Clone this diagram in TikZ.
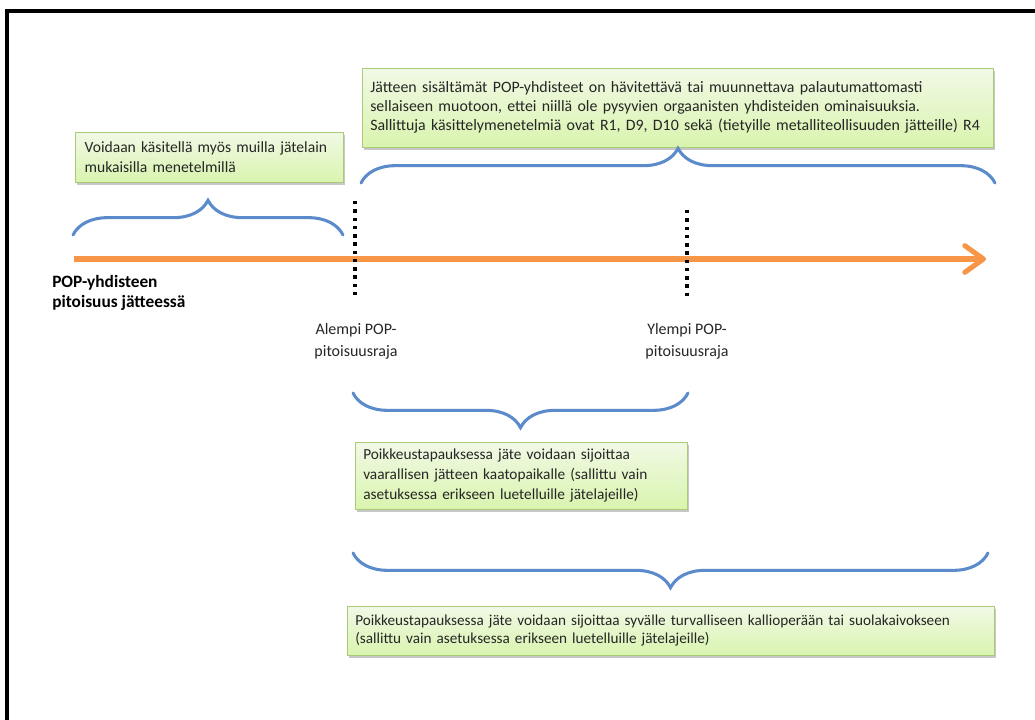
\documentclass[tikz,border=0pt]{standalone}
\usepackage{fontspec}
\setmainfont{Carlito}
\usepackage{xcolor}
\usepackage{tikz}
\usetikzlibrary{arrows.meta,positioning,decorations.pathreplacing,shadows}
\definecolor{axisorange}{HTML}{F79646}
\definecolor{braceblue}{HTML}{5B8BCB}
\definecolor{notetop}{HTML}{F1F9E6}
\definecolor{notebottom}{HTML}{D9F4AE}
\definecolor{noteborder}{HTML}{A9CB78}
\definecolor{textdark}{HTML}{262626}

\begin{document}
\begin{tikzpicture}[
    x=0.75pt,y=-0.75pt,
    note/.style={draw=noteborder,top color=notetop,bottom color=notebottom,anchor=north west,align=left,
        inner xsep=6pt,inner ysep=2pt,font=\fontsize{11.2}{13.6}\selectfont,text=textdark,
        drop shadow={shadow xshift=1.5pt,shadow yshift=-1.8pt,fill=black,opacity=0.22}},
    limit/.style={align=center,inner sep=0pt,font=\fontsize{12}{16.5}\selectfont,text=textdark},
    curly/.style={decorate,decoration={brace,amplitude=26pt},draw=braceblue,line width=2.3pt,line cap=round},
    axis/.style={draw=axisorange,line width=3.8pt,-{Straight Barb[length=14pt,width=20pt,round]}},
    threshold/.style={draw=black,line width=2.3pt,dash pattern=on 2.6pt off 3.6pt}
]
    \useasboundingbox (0,0) rectangle (1035,720);
    \draw[line width=2.3pt] (7,722) -- (7,11) -- (1037,11);

    \node[note,text width=461pt,minimum height=59.25pt,font=\fontsize{11.9}{14.2}\selectfont] (destroy) at (362,68)
        {Jätteen sisältämät POP-yhdisteet on hävitettävä tai muunnettava palautumattomasti\\
         sellaiseen muotoon, ettei niillä ole pysyvien orgaanisten yhdisteiden ominaisuuksia.\\
         Sallittuja käsittelymenetelmiä ovat R1, D9, D10 sekä (tietyille metalliteollisuuden jätteille) R4};
    \node[note,inner xsep=7pt,text width=187pt,minimum height=37.5pt,font=\fontsize{11.7}{14.5}\selectfont] (othermethods) at (75,132)
        {Voidaan käsitellä myös muilla jätelain\\mukaisilla menetelmillä};
    \node[note,text width=237pt,minimum height=50.25pt,font=\fontsize{11.5}{15}\selectfont] (landfill) at (355,442)
        {Poikkeustapauksessa jäte voidaan sijoittaa\\
         vaarallisen jätteen kaatopaikalle (sallittu vain\\
         asetuksessa erikseen luetelluille jätelajeille)};
    \node[note,text width=473pt,minimum height=36.75pt,font=\fontsize{11.4}{13.6}\selectfont] (bedrock) at (347,606)
        {Poikkeustapauksessa jäte voidaan sijoittaa syvälle turvalliseen kallioperään tai suolakaivokseen\\
         (sallittu vain asetuksessa erikseen luetelluille jätelajeille)};

    \node[anchor=west,align=left,inner sep=0pt,font=\fontsize{13}{14.5}\selectfont\bfseries] (poplabel) at (52,293)
        {POP-yhdisteen\\pitoisuus jätteessä};
    \node[limit] (lowlimit) at (356,341) {Alempi POP-\\pitoisuusraja};
    \node[limit] (uplimit) at (687,341) {Ylempi POP-\\pitoisuusraja};

    \coordinate (axstart) at (74,259);
    \coordinate (axend) at (986,259);
    \coordinate (lowtop) at (355,201);
    \coordinate (lowbottom) at (355,300);
    \coordinate (uptop) at (687,210);
    \coordinate (upbottom) at (687,300);

    \draw[axis] (axstart) -- (axend);
    \draw[threshold] (lowtop) -- (lowbottom);
    \draw[threshold] (uptop) -- (upbottom);

    \draw[curly] (73,235) -- (343,235);
    \draw[curly] (361,183) -- (995,183);
    \draw[curly] (688,393) -- (353,393);
    \draw[curly] (988,553) -- (353,553);
\end{tikzpicture}
\end{document}
